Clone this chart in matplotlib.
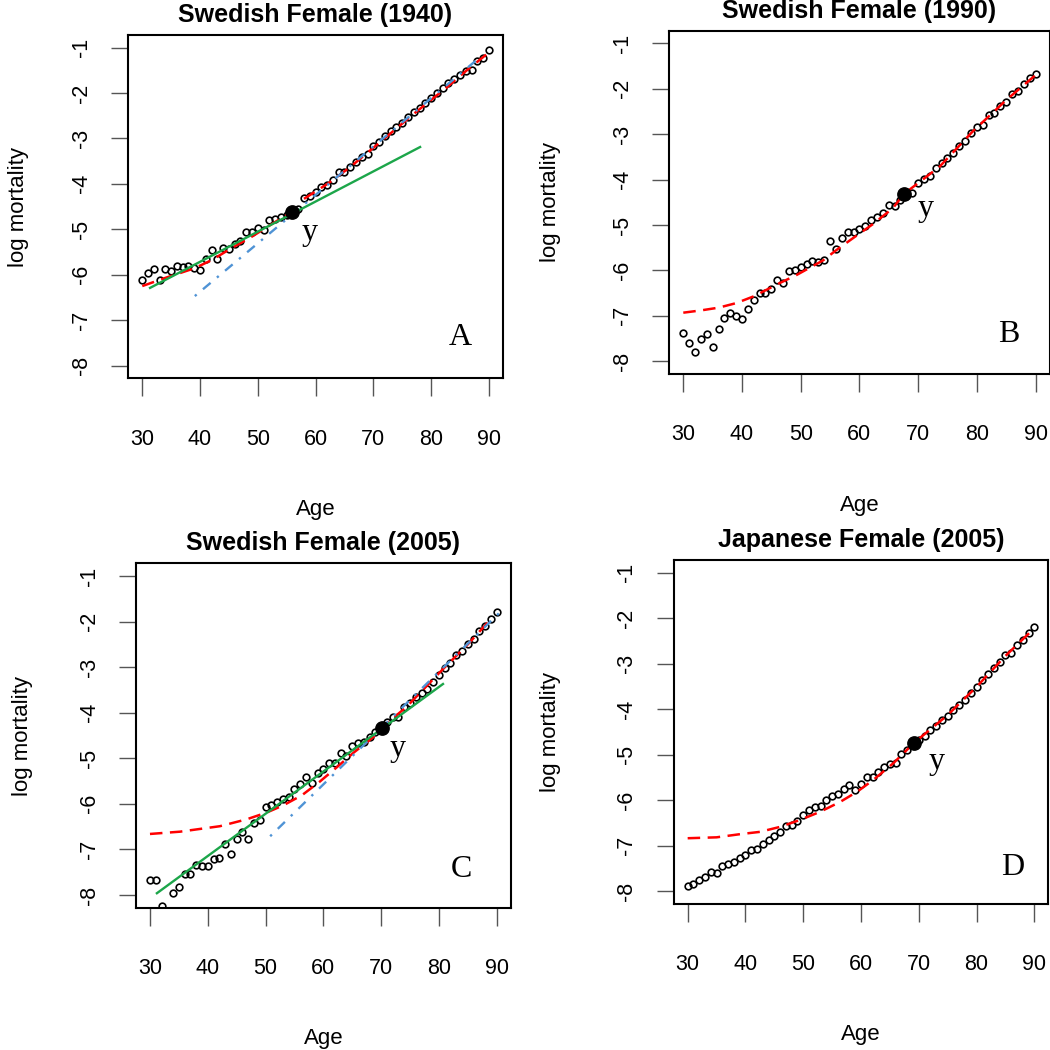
import numpy as np
import matplotlib
matplotlib.use("Agg")
import matplotlib.pyplot as plt

plt.rcParams["font.family"] = ["Liberation Sans", "DejaVu Sans"]
plt.rcParams["axes.unicode_minus"] = False

# ---------------- data ----------------
ages = list(range(30, 91))

titles = ["Swedish Female (1940)", "Swedish Female (1990)",
          "Swedish Female (2005)", "Japanese Female (2005)"]
panel_letters = ["A", "B", "C", "D"]
x_ticks = [30, 40, 50, 60, 70, 80, 90]
y_ticks = [-1, -2, -3, -4, -5, -6, -7, -8]

obs_a = [-6.11, -5.97, -5.88, -6.12, -5.87, -5.91, -5.81, -5.82, -5.81, -5.85,
         -5.90, -5.65, -5.46, -5.65, -5.41, -5.44, -5.33, -5.26, -5.05, -5.07,
         -4.98, -5.02, -4.79, -4.78, -4.72, -4.68, -4.62, -4.55, -4.32, -4.27,
         -4.19, -4.07, -4.02, -3.91, -3.75, -3.75, -3.64, -3.53, -3.40, -3.35,
         -3.17, -3.08, -2.95, -2.84, -2.76, -2.66, -2.53, -2.42, -2.34, -2.21,
         -2.12, -1.99, -1.88, -1.77, -1.70, -1.61, -1.51, -1.50, -1.29, -1.23,
         -1.05]
obs_b = [-7.38, -7.59, -7.80, -7.51, -7.40, -7.68, -7.29, -7.05, -6.93, -7.00,
         -7.07, -6.85, -6.65, -6.49, -6.49, -6.40, -6.21, -6.28, -6.01, -6.00,
         -5.93, -5.86, -5.80, -5.81, -5.78, -5.35, -5.52, -5.28, -5.15, -5.15,
         -5.09, -5.02, -4.89, -4.82, -4.74, -4.57, -4.59, -4.45, -4.36, -4.30,
         -4.07, -3.99, -3.91, -3.74, -3.64, -3.52, -3.41, -3.27, -3.14, -2.97,
         -2.85, -2.80, -2.58, -2.54, -2.38, -2.29, -2.12, -2.04, -1.90, -1.77,
         -1.67]
obs_c = [-7.67, -7.67, -8.24, -8.45, -7.95, -7.82, -7.54, -7.53, -7.34, -7.36,
         -7.36, -7.22, -7.18, -6.87, -7.09, -6.78, -6.61, -6.78, -6.43, -6.35,
         -6.06, -6.03, -5.95, -5.90, -5.84, -5.67, -5.56, -5.42, -5.54, -5.33,
         -5.24, -5.11, -5.10, -4.89, -4.95, -4.72, -4.67, -4.64, -4.53, -4.42,
         -4.33, -4.20, -4.09, -4.09, -3.87, -3.78, -3.66, -3.56, -3.47, -3.32,
         -3.17, -3.03, -2.92, -2.73, -2.64, -2.50, -2.38, -2.20, -2.09, -1.95,
         -1.80]
obs_d = [-7.88, -7.85, -7.76, -7.69, -7.58, -7.60, -7.44, -7.41, -7.36, -7.28,
         -7.21, -7.09, -7.08, -6.97, -6.87, -6.79, -6.70, -6.57, -6.54, -6.46,
         -6.32, -6.21, -6.16, -6.12, -6.00, -5.91, -5.87, -5.75, -5.66, -5.77,
         -5.64, -5.49, -5.49, -5.38, -5.27, -5.21, -5.19, -4.99, -4.91, -4.80,
         -4.68, -4.59, -4.46, -4.37, -4.24, -4.15, -4.02, -3.90, -3.79, -3.65,
         -3.52, -3.36, -3.23, -3.10, -2.96, -2.81, -2.76, -2.59, -2.47, -2.32,
         -2.19]

# red dashed fitted curves (NaN = break between pieces)
red_a_age = [30, 34, 39, 42, 45, 49, 53, 56.0, np.nan,
             58, 62.2, 66.1, 71.3, 76.9, 82.7, 86.1, 89.6]
red_a_val = [-6.25, -6.07, -5.86, -5.68, -5.45, -5.16, -4.84, -4.61, np.nan,
             -4.33, -3.99, -3.62, -3.07, -2.47, -1.88, -1.51, -1.15]
red_b_age = [30, 33, 36, 39, 42, 46.4, 49.3, 53.8, 56.1, 58.9, 62.3, 65.7,
             67.55, 73.7, 79.3, 85.0, 90]
red_b_val = [-6.93, -6.88, -6.82, -6.72, -6.57, -6.28, -6.10, -5.78, -5.55,
             -5.29, -4.98, -4.63, -4.32, -3.71, -2.94, -2.25, -1.70]
red_c_age = [30, 35.2, 42.1, 46.7, 50.2, 53.1, 56.3, 59.4, 62.3, 65.2, 68.7,
             70.1, 74.4, 80.8, 85.0, 89.1]
red_c_val = [-6.66, -6.61, -6.49, -6.34, -6.19, -6.03, -5.81, -5.51, -5.20,
             -4.88, -4.53, -4.33, -3.87, -3.03, -2.50, -1.93]
red_d_age = [30, 35, 39.1, 42.5, 46, 49.4, 52.9, 56.4, 59.3, 62.1, 65.6,
             69.2, 75, 80, 85, 90]
red_d_val = [-6.84, -6.82, -6.75, -6.70, -6.59, -6.44, -6.26, -6.04, -5.82,
             -5.56, -5.19, -4.74, -4.13, -3.51, -2.83, -2.22]

# blue dash-dot and green solid straight fits (panels A and C)
blue_a_age = [39.1, 88.4]
blue_a_val = [-6.47, -1.22]
blue_c_age = [50.8, 91.1]
blue_c_val = [-6.71, -1.73]
green_a_age = [31.35, 78.1]
green_a_val = [-6.29, -3.19]
green_c_age = [31.2, 80.7]
green_c_val = [-7.96, -3.37]

# highlighted point "y"
dot_age = [56.0, 67.55, 70.1, 69.2]
dot_val = [-4.61, -4.32, -4.33, -4.74]

# ---------------- layout ----------------
W = H = 1050
boxes_px = [(128.4, 502.7, 34.8, 378.3),
            (669.2, 1049.6, 30.6, 374.0),
            (136.1, 510.6, 563.2, 907.8),
            (673.8, 1048.2, 560.0, 903.7)]
letter_pos = [(85.1, -7.39), (85.4, -7.42), (83.9, -7.45), (86.3, -7.48)]
ylab_pos = [(58.9, -5.07), (71.3, -4.63), (72.8, -4.78), (73.1, -5.16)]
ylabel_off = [110, 119, 114, 123]

obs = [obs_a, obs_b, obs_c, obs_d]
reds = [(red_a_age, red_a_val), (red_b_age, red_b_val),
        (red_c_age, red_c_val), (red_d_age, red_d_val)]
blues = {0: (blue_a_age, blue_a_val), 2: (blue_c_age, blue_c_val)}
greens = {0: (green_a_age, green_a_val), 2: (green_c_age, green_c_val)}

RED = "#FF0000"
BLUE = "#4F93D5"
GREEN = "#1CA64A"
TICKC = "#555555"

fig = plt.figure(figsize=(W / 100, H / 100), dpi=100)

for i in range(4):
    l, r, t, b = boxes_px[i]
    w_px, h_px = r - l, b - t
    ax = fig.add_axes([l / W, 1 - b / H, w_px / W, h_px / H])
    ax.set_xlim(27.6, 92.4)
    ax.set_ylim(-8.28, -0.72)

    ax.plot(ages, obs[i], linestyle="none", marker="o", ms=4.8,
            mfc="none", mec="black", mew=1.2, zorder=2)
    ra, rv = reds[i]
    ax.plot(ra, rv, color=RED, lw=1.8, dashes=(5, 3), zorder=3)
    if i in blues:
        ba, bv = blues[i]
        ax.plot(ba, bv, color=BLUE, lw=1.7, dashes=(1, 3.5, 4.2, 3.5),
                solid_capstyle="butt", dash_capstyle="butt", zorder=4)
    if i in greens:
        ga, gv = greens[i]
        ax.plot(ga, gv, color=GREEN, lw=1.7, zorder=5)
    ax.plot([dot_age[i]], [dot_val[i]], marker="o", ms=9.6, color="black",
            linestyle="none", zorder=6)

    ax.text(*letter_pos[i], panel_letters[i], family="Liberation Serif",
            fontsize=23, ha="center", va="center")
    ax.text(*ylab_pos[i], "y", family="Liberation Serif", fontsize=23,
            ha="center", va="center")

    for s in ax.spines.values():
        s.set_linewidth(1.5)
        s.set_color("black")

    ax.set_xticks(x_ticks)
    ax.set_xticklabels([str(v) for v in x_ticks])
    ax.set_yticks(y_ticks)
    ax.set_yticklabels([str(v) for v in y_ticks])
    ax.tick_params(axis="x", direction="out", length=13.3, width=1.0,
                   color=TICKC, labelsize=15.5, pad=23)
    ax.tick_params(axis="y", direction="out", length=12.3, width=1.0,
                   color=TICKC, labelsize=15.5, pad=14, labelrotation=90)
    for lab in ax.get_yticklabels():
        lab.set_verticalalignment("center")

    ax.text(0.5, 1 + 20 / h_px, titles[i], transform=ax.transAxes,
            ha="center", va="center", fontsize=18, fontweight="bold")
    ax.text(0.5, -131 / h_px, "Age", transform=ax.transAxes,
            ha="center", va="center", fontsize=16)
    ax.text(-ylabel_off[i] / w_px, 0.5, "log mortality", transform=ax.transAxes,
            ha="center", va="center", rotation=90, fontsize=16)

fig.savefig("out.png", dpi=100)
